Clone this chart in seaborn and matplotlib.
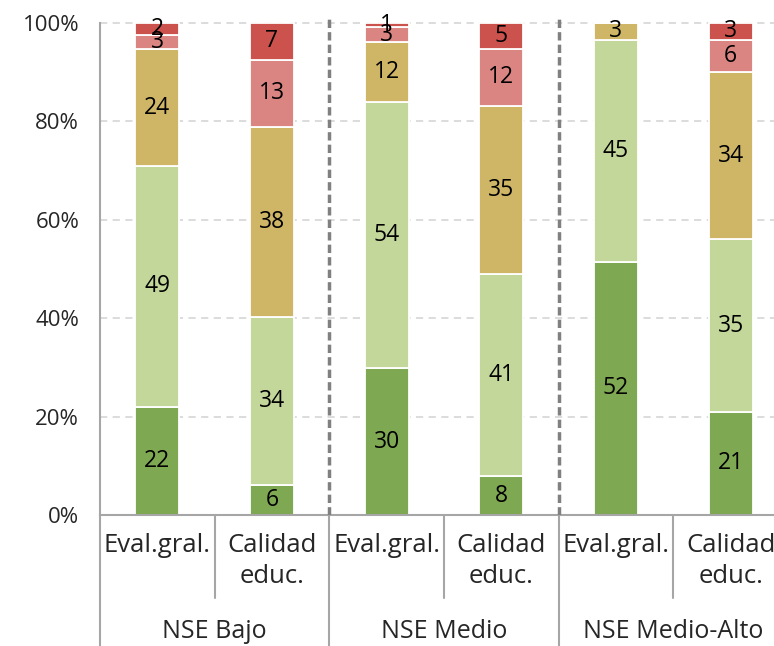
import numpy as np
import seaborn as sns
import matplotlib
matplotlib.use("Agg")
import matplotlib.pyplot as plt
from matplotlib.ticker import FuncFormatter
from matplotlib.transforms import blended_transform_factory

groups = ["NSE Bajo", "NSE Medio", "NSE Medio-Alto"]
items = ["Eval.gral.", "Calidad\neduc."]

# segment heights (bottom -> top), in percent
muy_bueno = [22.0, 6.0, 29.8, 7.9, 51.5, 21.0]
bueno = [49.0, 34.3, 54.2, 41.0, 45.0, 35.0]
regular = [23.6, 38.5, 12.1, 34.3, 3.5, 34.1]
malo = [3.0, 13.7, 3.0, 11.5, 0.0, 6.5]
muy_malo = [2.4, 7.5, 0.9, 5.3, 0.0, 3.4]

# rounded figures printed in the bars
lbl_muy_bueno = [22, 6, 30, 8, 52, 21]
lbl_bueno = [49, 34, 54, 41, 45, 35]
lbl_regular = [24, 38, 12, 35, 3, 34]
lbl_malo = [3, 13, 3, 12, None, 6]
lbl_muy_malo = [2, 7, 1, 5, None, 3]

colors = ["#7fa852", "#c4d79b", "#cfb667", "#da8582", "#cc524e"]

sns.set_style("white")
plt.rcParams["font.family"] = ["Open Sans", "DejaVu Sans"]
plt.rcParams["font.size"] = 16

bars = [g + "|" + i for g in groups for i in items]

fig = plt.figure(figsize=(7.74, 6.46), dpi=100)
ax = fig.add_axes([100 / 774, 1 - 515 / 646, 688 / 774, 500 / 646])

series = [muy_bueno, bueno, regular, malo, muy_malo]
labels = [lbl_muy_bueno, lbl_bueno, lbl_regular, lbl_malo, lbl_muy_malo]
bottom = np.zeros(len(bars))
for vals, labs, col in zip(series, labels, colors):
    sns.barplot(x=bars, y=vals, order=bars, color=col, saturation=1,
                width=0.385, bottom=bottom, edgecolor="white", linewidth=1.3,
                errorbar=None, ax=ax)
    cont = ax.containers[-1]
    ax.bar_label(cont, labels=["" if l is None else str(l) for l in labs],
                 label_type="center", fontsize=16.5, color="black")
    bottom = bottom + np.array(vals)

ax.set_xlim(-0.5, 5.5)
ax.set_ylim(0, 101.6)
ax.set_yticks([0, 20, 40, 60, 80, 100])
ax.yaxis.set_major_formatter(FuncFormatter(lambda v, p: "{:.0f}%".format(v)))
ax.yaxis.grid(True, color="#d9d9d9", linestyle=(0, (4, 3)), linewidth=1.3)
ax.set_axisbelow(True)
ax.tick_params(axis="y", length=5, width=1.5, color="#a6a6a6", pad=10, labelsize=16)
ax.set_xticks(range(len(bars)))
ax.set_xticklabels(items * len(groups))
ax.tick_params(axis="x", length=0, pad=13, labelsize=18.5)
for t in ax.get_xticklabels():
    t.set_linespacing(1.3)
ax.set_xlabel("")
ax.set_ylabel("")

for side in ["top", "right"]:
    ax.spines[side].set_visible(False)
ax.spines["left"].set_bounds(0, 100)
for side in ["left", "bottom"]:
    ax.spines[side].set_color("#a6a6a6")
    ax.spines[side].set_linewidth(1.5)

# dashed dividers between groups
for x in [1.5, 3.5]:
    ax.axvline(x, color="#808080", linewidth=2.5, linestyle=(0, (2.4, 1.2)), zorder=3)

# table-like separators under the axis
trans = blended_transform_factory(ax.transData, ax.transAxes)
for x in [-0.5, 1.5, 3.5, 5.5]:
    ax.plot([x, x], [0, -0.27], transform=trans, clip_on=False, color="#a6a6a6", lw=1.5)
for x in [0.5, 2.5, 4.5]:
    ax.plot([x, x], [0, -0.166], transform=trans, clip_on=False, color="#a6a6a6", lw=1.5)
for k, g in enumerate(groups):
    ax.text(2 * k + 0.5, -0.234, g, transform=trans, ha="center", va="center", fontsize=18)

fig.savefig("out.png", dpi=100)
